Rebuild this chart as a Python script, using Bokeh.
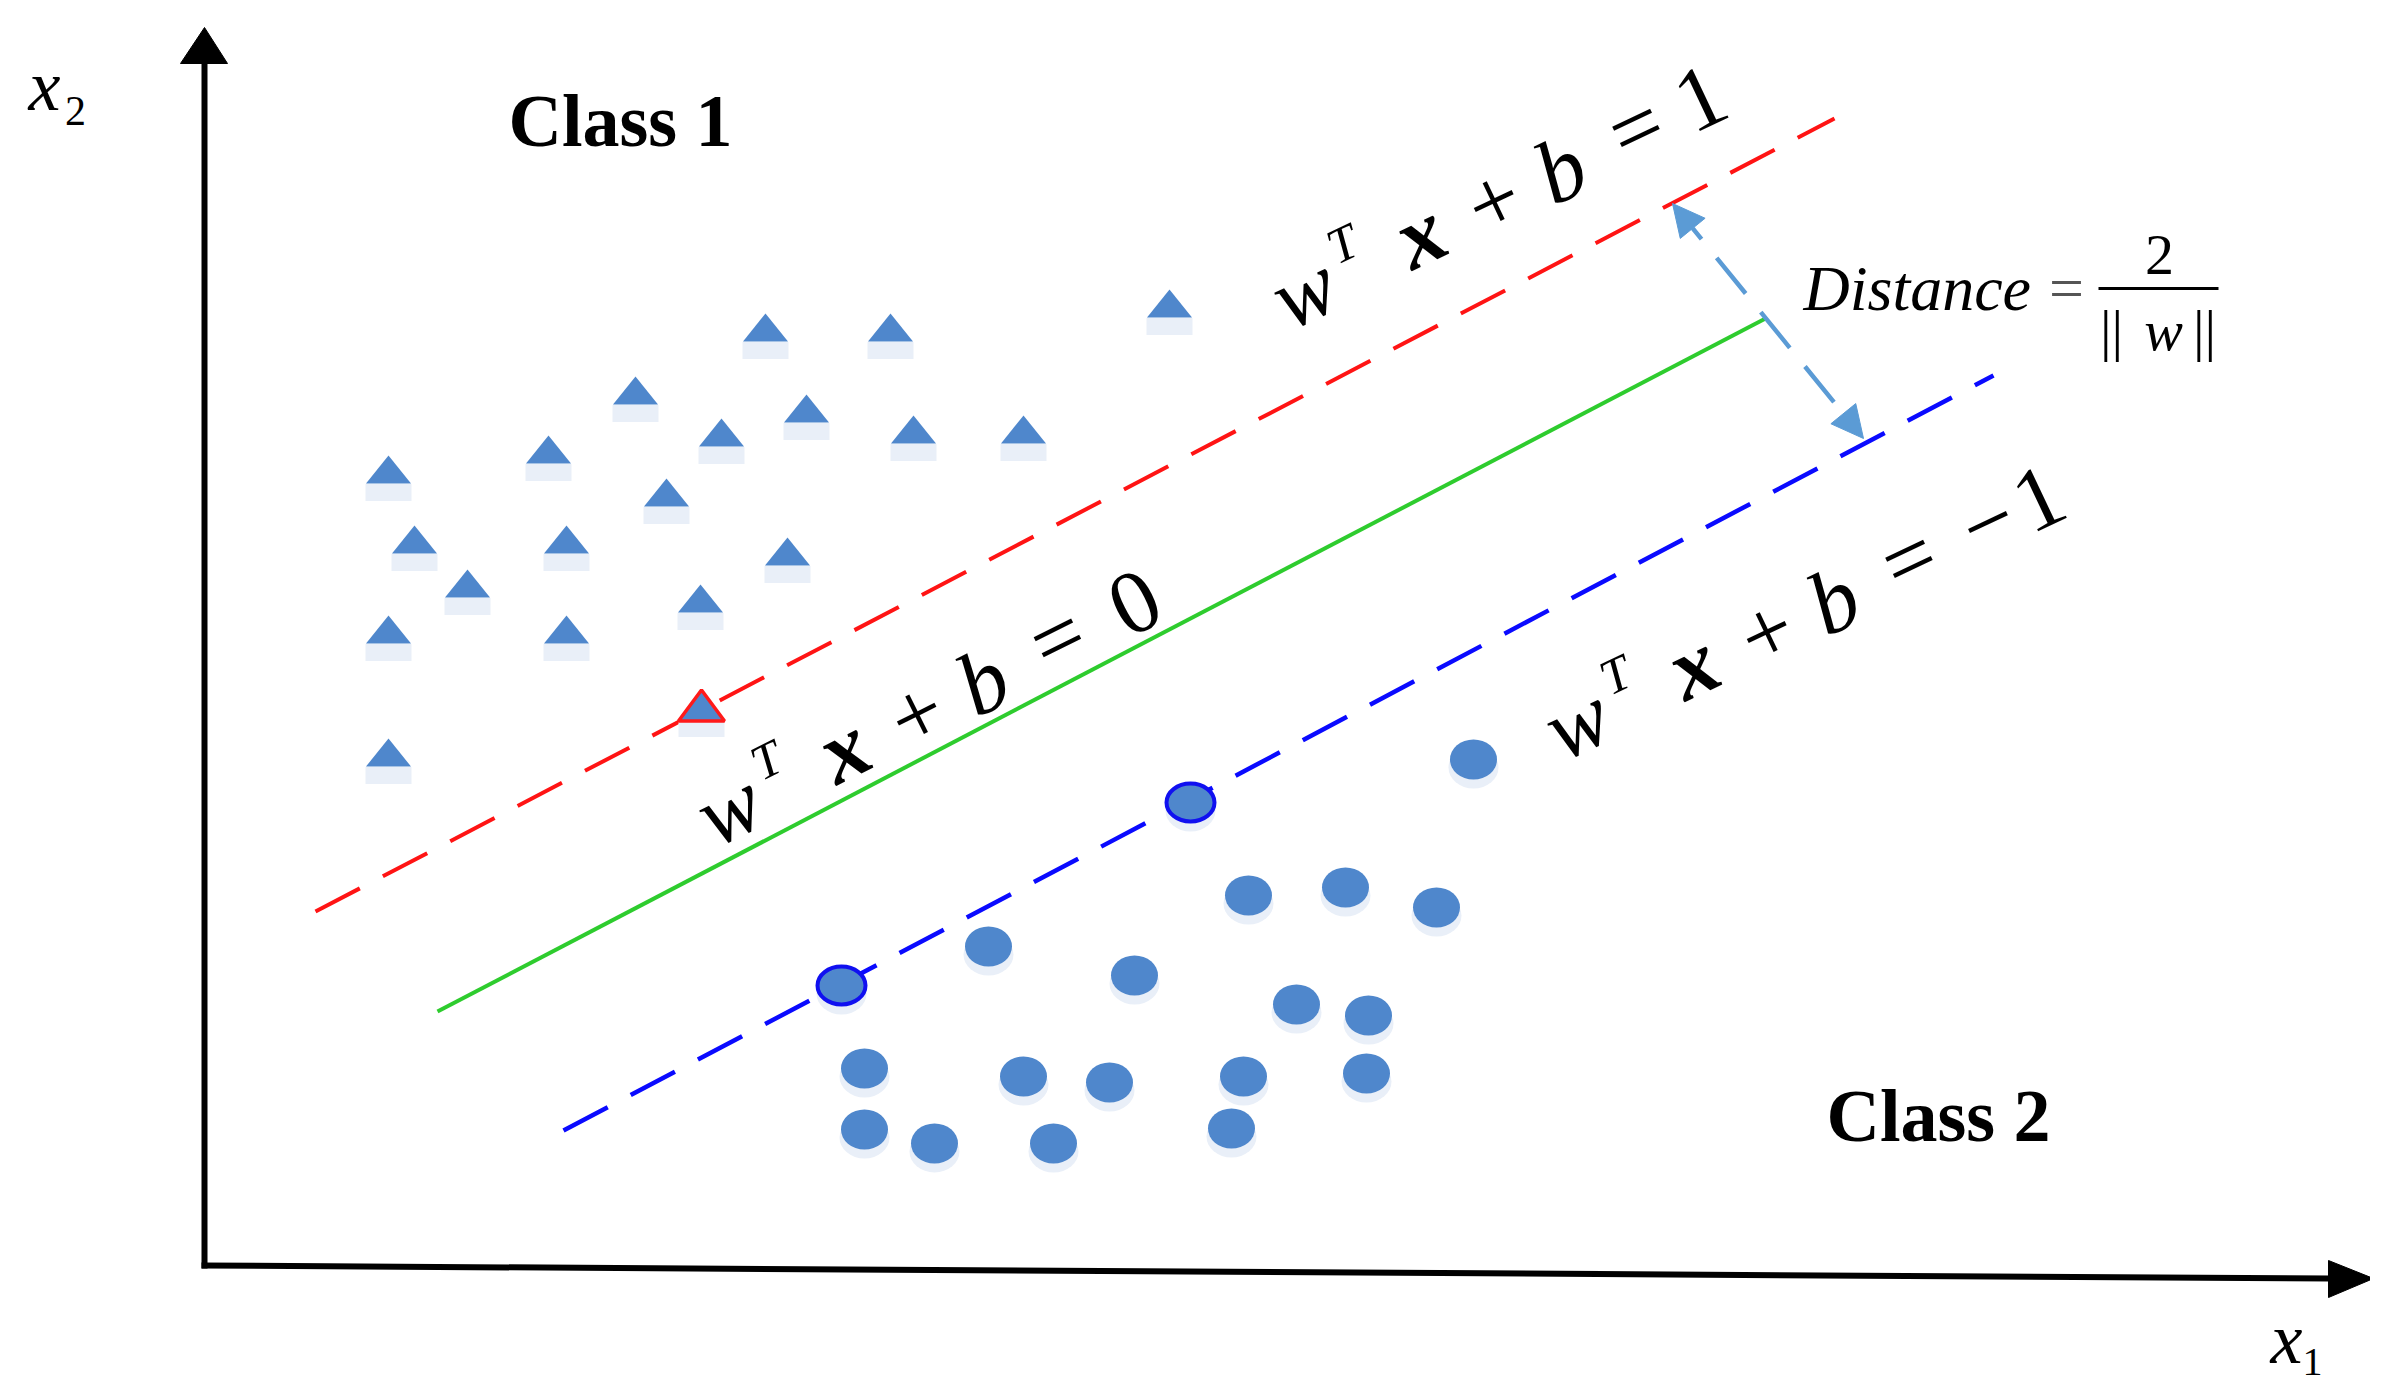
import math
from bokeh.plotting import figure
from bokeh.models import Range1d, Arrow, NormalHead
from bokeh.core.properties import value
from bokeh.embed import file_html
from bokeh.resources import INLINE

# ---------------- data (diagram units, origin at the axes corner) ----------------
class1_x = [561, 686, 965, 431, 602, 517, 709, 819, 344, 184, 462, 210, 362, 583, 263, 496, 184, 362, 184]
class1_y = [938, 938, 962, 875, 857, 833, 836, 836, 816, 796, 773, 726, 726, 714, 682, 667, 636, 636, 513]
class2_x = [1269, 1044, 1141, 1232, 784, 930, 1092, 1164, 660, 819, 905, 1039, 1162, 660, 730, 849, 1027]
class2_y = [506, 370, 378, 358, 319, 290, 261, 250, 197, 189, 183, 189, 192, 136, 122, 122, 137]
sv1_x = [497]          # support vector of class 1 (on w'x+b=1)
sv1_y = [560]
sv2_x = [986, 637]     # support vectors of class 2 (on w'x+b=-1)
sv2_y = [463, 280]
plus_x = [111, 1630]   # w'x+b = 1
plus_y = [354, 1147]
zero_x = [233, 1561]   # w'x+b = 0
zero_y = [254, 947]
minus_x = [359, 1789]  # w'x+b = -1
minus_y = [135, 890]
margin_x = [1468, 1659]  # distance arrow
margin_y = [1062, 827]

FONT = value("Liberation Serif")
MARK = "#4f87cc"
SHADOW = "#e9eff8"
LIFT = 0.3   # baseline correction, in em

p = figure(width=2370, height=1383, output_backend="svg", toolbar_location=None,
           x_range=Range1d(-204, 2166), y_range=Range1d(-118, 1265),
           x_axis_type=None, y_axis_type=None, min_border=0)
p.grid.visible = False
p.outline_line_color = None
p.background_fill_color = "white"
p.border_fill_color = "white"

# ---------------- axes with arrows ----------------
p.line([0, 0], [-3, 1205], line_color="black", line_width=6)
p.patch([0, -24, 23], [1238, 1202, 1202], color="black")
p.line([-3, 2126], [0, -13], line_color="black", line_width=6)
p.patch([2169, 2124, 2124], [-13, 5, -32], color="black")

# ---------------- hyperplanes ----------------
p.line(plus_x, plus_y, line_color="#ff1414", line_width=4, line_dash="50 26")
p.line(zero_x, zero_y, line_color="#2ecc2e", line_width=4)
p.line(minus_x, minus_y, line_color="#0a0aff", line_width=4.5, line_dash="50 26")

# ---------------- class 1 triangles ----------------
hw, hh = 22.5, 14
p.rect(x=class1_x + sv1_x, y=[v - hh - 9 for v in class1_y + sv1_y], width=46, height=17,
       fill_color=SHADOW, line_color=None)
p.patches(xs=[[x - hw, x, x + hw] for x in class1_x],
          ys=[[y - hh, y + hh, y - hh] for y in class1_y],
          fill_color=MARK, line_color=None)
p.patches(xs=[[x - 23, x, x + 23] for x in sv1_x],
          ys=[[y - 15.5, y + 15.5, y - 15.5] for y in sv1_y],
          fill_color=MARK, line_color="#ff1a1a", line_width=3.5)

# ---------------- class 2 circles ----------------
p.ellipse(x=class2_x + sv2_x, y=[v - 8 for v in class2_y + sv2_y], width=50, height=42,
          fill_color=SHADOW, line_color=None)
p.ellipse(x=class2_x, y=class2_y, width=47, height=40, fill_color=MARK, line_color=None)
p.ellipse(x=sv2_x, y=sv2_y, width=48, height=38, fill_color=MARK,
          line_color="#1010f0", line_width=4)

# ---------------- margin arrow ----------------
AC = "#5b9bd5"
p.add_layout(Arrow(start=NormalHead(size=32, fill_color=AC, line_color=AC),
                   end=NormalHead(size=32, fill_color=AC, line_color=AC),
                   x_start=margin_x[0], y_start=margin_y[0],
                   x_end=margin_x[1], y_end=margin_y[1],
                   line_color=AC, line_width=4.5, line_dash="46 24"))


# ---------------- rotated equations ----------------
def equation(cx, cy, deg, size, parts):
    th = math.radians(deg)
    ux, uy = math.cos(th), math.sin(th)
    nx, ny = -math.sin(th), math.cos(th)
    off = -0.23 * size
    for s, r, txt, style, sz in parts:
        rr = off + r + LIFT * sz
        p.text(x=[cx + s * ux + rr * nx], y=[cy + s * uy + rr * ny], text=[txt], angle=th,
               text_font=FONT, text_font_style=style, text_font_size=f"{sz}px",
               text_align="center", text_baseline="alphabetic", text_color="black")


S = 90
head = [(0, 0, "w", "italic", S), (55, 38, "T", "italic", 50),
        (129, 2, "x", "bold italic", S), (210, 0, "+", "normal", S),
        (284, 0, "b", "italic", S), (370, 6, "=", "normal", S)]
equation(1102, 969, 25.3, S, head + [(441, 5, "1", "normal", S)])
equation(527, 452, 26.5, S, head + [(455, 3, "0", "normal", S)])
equation(1375, 538, 25.3, S, head + [(457, 5, "\u2212", "normal", S), (513, 5, "1", "normal", S)])


# ---------------- labels ----------------
def txt(x, y, t, size, style="normal", align="center", color="black"):
    p.text(x=[x], y=[y + LIFT * size], text=[t], text_font=FONT, text_font_style=style,
           text_font_size=f"{size}px", text_align=align, text_baseline="alphabetic",
           text_color=color)


txt(416, 1122, "Class 1", 74, "bold")
txt(1734, 127, "Class 2", 74, "bold")
txt(-160, 1158, "x", 72, "italic")
txt(-129, 1142, "2", 42)
txt(2082, -95, "x", 72, "italic")
txt(2108, -108, "1", 40)

# Distance = 2 / ||w||
txt(1599, 958, "Distance", 64, "italic", align="left")
txt(1862, 959, "=", 62, color="#555555")
txt(1955, 993, "2", 58)
p.line([1894, 2014], [977, 977], line_color="black", line_width=3)
txt(1907, 918, "||", 58)
txt(1959, 918, "w", 58, "italic")
txt(2000, 918, "||", 58)

open("out.html", "w").write(file_html(p, INLINE))
